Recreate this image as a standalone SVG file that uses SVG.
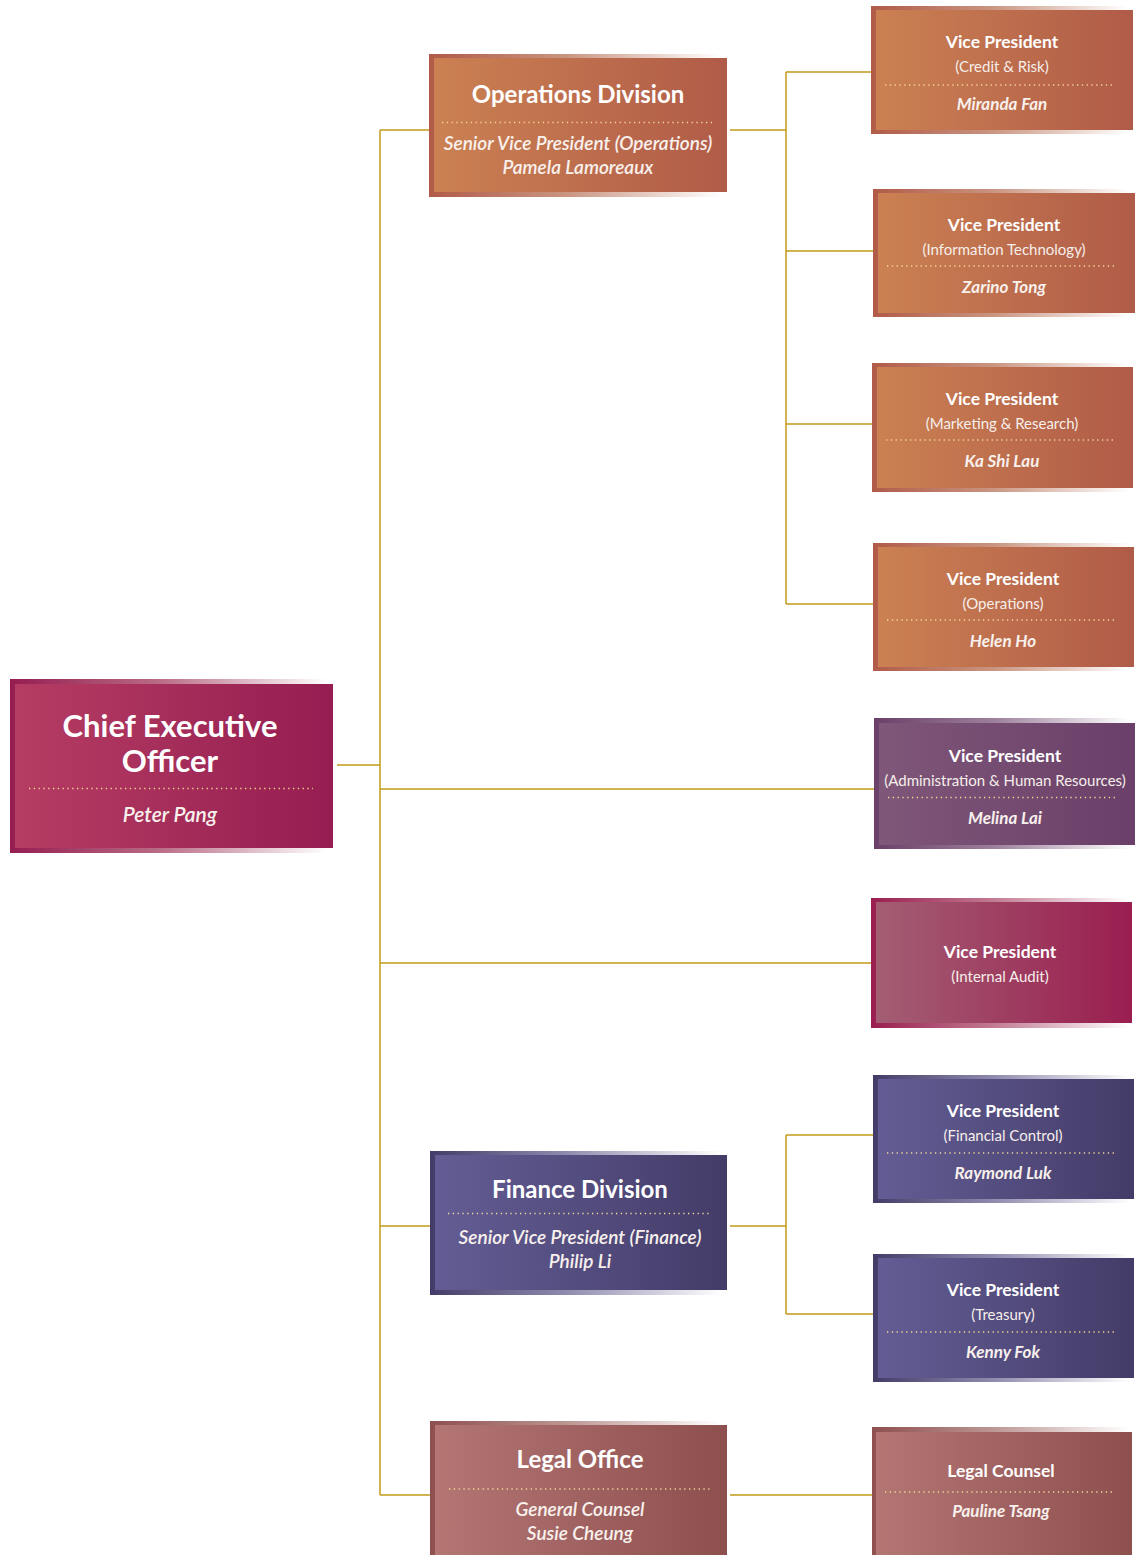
<svg xmlns="http://www.w3.org/2000/svg" width="1137" height="1555" viewBox="0 0 1137 1555">
<defs>
<linearGradient id="g-ceo"><stop offset="0" stop-color="#b53d63"/><stop offset="1" stop-color="#951d51"/></linearGradient>
<linearGradient id="f-ceo"><stop offset="0" stop-color="#951d51"/><stop offset="0.45" stop-color="#b86a84"/><stop offset="0.97" stop-color="#ffffff"/></linearGradient>
<linearGradient id="g-or"><stop offset="0" stop-color="#cb8152"/><stop offset="1" stop-color="#b05b48"/></linearGradient>
<linearGradient id="f-or"><stop offset="0" stop-color="#b05b48"/><stop offset="0.45" stop-color="#c99480"/><stop offset="0.97" stop-color="#ffffff"/></linearGradient>
<linearGradient id="g-pu"><stop offset="0" stop-color="#7f5779"/><stop offset="1" stop-color="#6a3f69"/></linearGradient>
<linearGradient id="f-pu"><stop offset="0" stop-color="#6a3f69"/><stop offset="0.45" stop-color="#9c7f9b"/><stop offset="0.97" stop-color="#ffffff"/></linearGradient>
<linearGradient id="g-au"><stop offset="0" stop-color="#a35e73"/><stop offset="1" stop-color="#9a1e50"/></linearGradient>
<linearGradient id="f-au"><stop offset="0" stop-color="#9a1e50"/><stop offset="0.45" stop-color="#c07890"/><stop offset="0.97" stop-color="#ffffff"/></linearGradient>
<linearGradient id="g-bl"><stop offset="0" stop-color="#645d95"/><stop offset="1" stop-color="#433c68"/></linearGradient>
<linearGradient id="f-bl"><stop offset="0" stop-color="#433c68"/><stop offset="0.45" stop-color="#8e8aad"/><stop offset="0.97" stop-color="#ffffff"/></linearGradient>
<linearGradient id="g-le"><stop offset="0" stop-color="#b37673"/><stop offset="1" stop-color="#8e4f4f"/></linearGradient>
<linearGradient id="f-le"><stop offset="0" stop-color="#8e4f4f"/><stop offset="0.45" stop-color="#bb9592"/><stop offset="0.97" stop-color="#ffffff"/></linearGradient>
</defs>
<style>
text{font-family:"Lato","Liberation Sans",sans-serif;fill:#ffffff;text-anchor:middle}
.t1{font-size:31px;font-weight:bold}
.t2{font-size:24px;font-weight:bold}
.t3{font-size:17.5px;font-weight:bold}
.s2{font-size:19px;font-style:italic;font-weight:600;fill:#f8f0ec}
.s3{font-size:15px;fill:#f6eeea}
.n1{font-size:21px;font-style:italic;font-weight:600;fill:#f8f0ec}
.n3{font-size:17px;font-style:italic;font-weight:bold;fill:#f8f0ec}
.dot{stroke:#f3d896;stroke-width:1.3;stroke-dasharray:1.3 3.5;fill:none}
.con{stroke:#c49a1c;stroke-width:1.5;fill:none}
</style>
<rect width="1137" height="1555" fill="#ffffff"/>
<g id="connectors">
<path class="con" d="M333 765H380M380 130V1495M380 130H429M380 789H874M380 963H871M380 1226H430M380 1495H430"/>
<path class="con" d="M727 130H786M786 72V604M786 72H871M786 251H873M786 424H872M786 604H873"/>
<path class="con" d="M727 1226H786M786 1135V1314M786 1135H873M786 1314H873M727 1495H872"/>
</g>
<g id="ceo">
<rect x="10" y="679" width="327" height="174" fill="url(#f-ceo)"/>
<rect x="15" y="684" width="318" height="164" fill="url(#g-ceo)"/>
<text class="t1" x="170" y="737">Chief Executive</text>
<text class="t1" x="170" y="772">Officer</text>
<line class="dot" x1="29" y1="788.5" x2="313" y2="788.5"/>
<text class="n1" x="170" y="822">Peter Pang</text>
</g>
<g id="operations">
<rect x="429" y="54" width="301" height="143" fill="url(#f-or)"/>
<rect x="434" y="58" width="293" height="134" fill="url(#g-or)"/>
<text class="t2" x="578" y="103">Operations Division</text>
<line class="dot" x1="442" y1="122.5" x2="712" y2="122.5"/>
<text class="s2" x="578" y="150">Senior Vice President (Operations)</text>
<text class="s2" x="578" y="174">Pamela Lamoreaux</text>
</g>
<g id="vp-credit">
<rect x="871" y="6" width="265" height="128" fill="url(#f-or)"/>
<rect x="876" y="10" width="257" height="120" fill="url(#g-or)"/>
<text class="t3" x="1002" y="48">Vice President</text>
<text class="s3" x="1002" y="72">(Credit &amp; Risk)</text>
<line class="dot" x1="885" y1="85" x2="1113" y2="85"/>
<text class="n3" x="1002" y="110">Miranda Fan</text>
</g>
<g id="vp-it">
<rect x="873" y="189" width="265" height="128" fill="url(#f-or)"/>
<rect x="878" y="193" width="257" height="120" fill="url(#g-or)"/>
<text class="t3" x="1004" y="231">Vice President</text>
<text class="s3" x="1004" y="255">(Information Technology)</text>
<line class="dot" x1="887" y1="266" x2="1115" y2="266"/>
<text class="n3" x="1004" y="293">Zarino Tong</text>
</g>
<g id="vp-marketing">
<rect x="872" y="363" width="265" height="129" fill="url(#f-or)"/>
<rect x="877" y="367" width="256" height="121" fill="url(#g-or)"/>
<text class="t3" x="1002" y="405">Vice President</text>
<text class="s3" x="1002" y="429">(Marketing &amp; Research)</text>
<line class="dot" x1="886" y1="440" x2="1114" y2="440"/>
<text class="n3" x="1002" y="467">Ka Shi Lau</text>
</g>
<g id="vp-operations">
<rect x="873" y="543" width="265" height="128" fill="url(#f-or)"/>
<rect x="878" y="547" width="256" height="120" fill="url(#g-or)"/>
<text class="t3" x="1003" y="585">Vice President</text>
<text class="s3" x="1003" y="609">(Operations)</text>
<line class="dot" x1="887" y1="620" x2="1115" y2="620"/>
<text class="n3" x="1003" y="647">Helen Ho</text>
</g>
<g id="vp-admin">
<rect x="874" y="718" width="264" height="131" fill="url(#f-pu)"/>
<rect x="879" y="723" width="256" height="122" fill="url(#g-pu)"/>
<text class="t3" x="1005" y="762">Vice President</text>
<text class="s3" x="1005" y="786">(Administration &amp; Human Resources)</text>
<line class="dot" x1="888" y1="797.5" x2="1116" y2="797.5"/>
<text class="n3" x="1005" y="824">Melina Lai</text>
</g>
<g id="vp-audit">
<rect x="871" y="898" width="265" height="130" fill="url(#f-au)"/>
<rect x="876" y="902" width="256" height="121" fill="url(#g-au)"/>
<text class="t3" x="1000" y="958">Vice President</text>
<text class="s3" x="1000" y="982">(Internal Audit)</text>
</g>
<g id="finance">
<rect x="430" y="1151" width="300" height="144" fill="url(#f-bl)"/>
<rect x="435" y="1155" width="292" height="135" fill="url(#g-bl)"/>
<text class="t2" x="580" y="1198">Finance Division</text>
<line class="dot" x1="448" y1="1213.5" x2="712" y2="1213.5"/>
<text class="s2" x="580" y="1244">Senior Vice President (Finance)</text>
<text class="s2" x="580" y="1268">Philip Li</text>
</g>
<g id="vp-financial-control">
<rect x="873" y="1075" width="265" height="128" fill="url(#f-bl)"/>
<rect x="878" y="1079" width="256" height="120" fill="url(#g-bl)"/>
<text class="t3" x="1003" y="1117">Vice President</text>
<text class="s3" x="1003" y="1141">(Financial Control)</text>
<line class="dot" x1="887" y1="1153" x2="1115" y2="1153"/>
<text class="n3" x="1003" y="1179">Raymond Luk</text>
</g>
<g id="vp-treasury">
<rect x="873" y="1254" width="265" height="128" fill="url(#f-bl)"/>
<rect x="878" y="1258" width="256" height="120" fill="url(#g-bl)"/>
<text class="t3" x="1003" y="1296">Vice President</text>
<text class="s3" x="1003" y="1320">(Treasury)</text>
<line class="dot" x1="887" y1="1332" x2="1115" y2="1332"/>
<text class="n3" x="1003" y="1358">Kenny Fok</text>
</g>
<g id="legal-office">
<rect x="430" y="1421" width="300" height="134" fill="url(#f-le)"/>
<rect x="435" y="1425" width="292" height="130" fill="url(#g-le)"/>
<text class="t2" x="580" y="1468">Legal Office</text>
<line class="dot" x1="449" y1="1489" x2="710" y2="1489"/>
<text class="s2" x="580" y="1516">General Counsel</text>
<text class="s2" x="580" y="1540">Susie Cheung</text>
</g>
<g id="legal-counsel">
<rect x="872" y="1427" width="265" height="128" fill="url(#f-le)"/>
<rect x="876" y="1432" width="256" height="123" fill="url(#g-le)"/>
<text class="t3" x="1001" y="1477">Legal Counsel</text>
<line class="dot" x1="885" y1="1492" x2="1113" y2="1492"/>
<text class="n3" x="1001" y="1517">Pauline Tsang</text>
</g>
</svg>
